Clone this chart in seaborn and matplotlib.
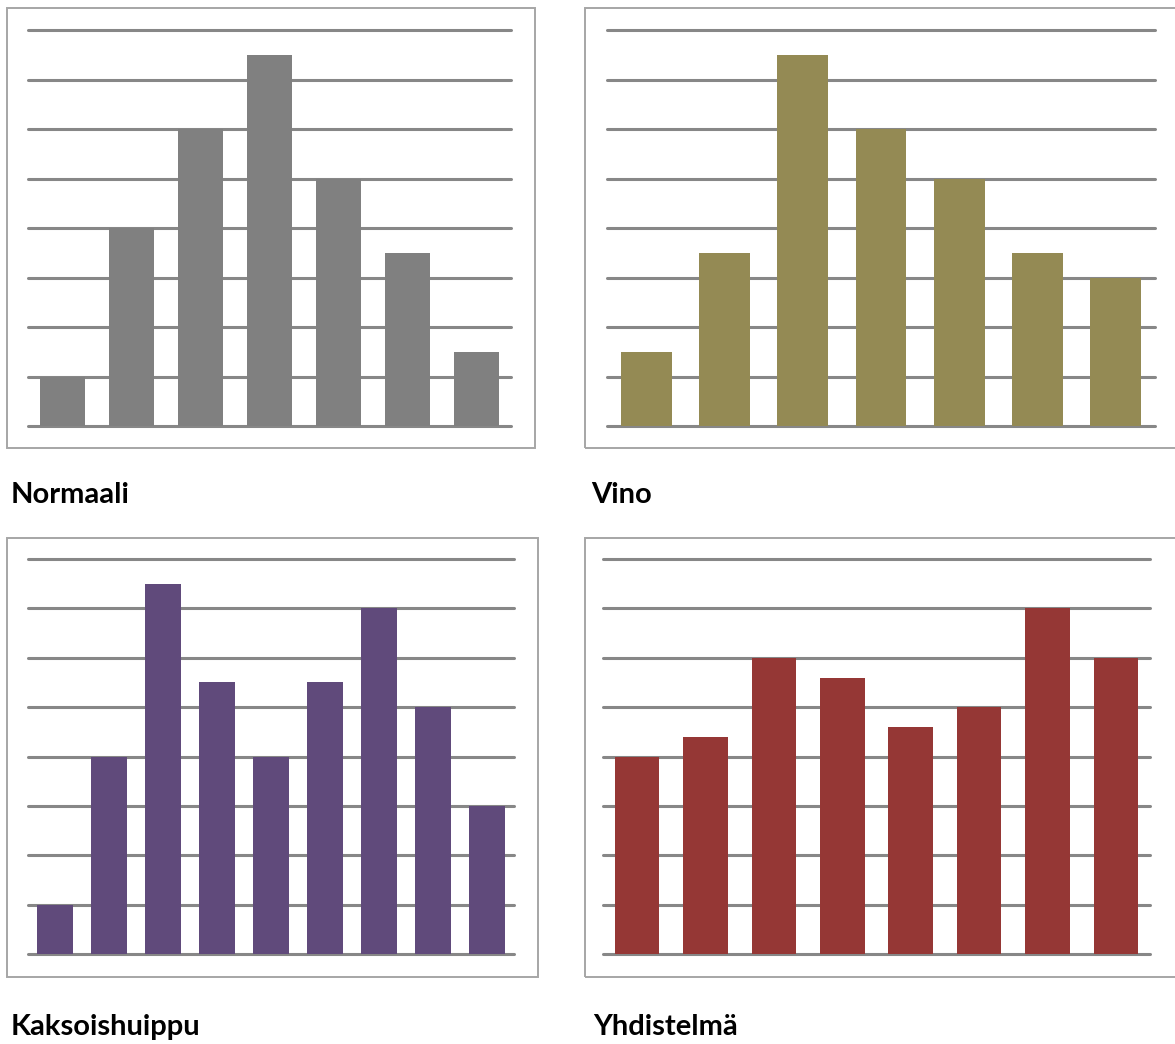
import matplotlib
matplotlib.use("Agg")
import matplotlib.pyplot as plt
from matplotlib.patches import Rectangle
import seaborn as sns
import pandas as pd

sns.set_theme(style="white")
plt.rcParams["font.family"] = ["Lato", "DejaVu Sans"]

# Histogram shapes (bar heights on a 0..8 scale)
normaali_cats = ["1", "2", "3", "4", "5", "6", "7"]
normaali_vals = [1, 4, 6, 7.5, 5, 3.5, 1.5]

vino_cats = ["1", "2", "3", "4", "5", "6", "7"]
vino_vals = [1.5, 3.5, 7.5, 6, 5, 3.5, 3]

kaksoishuippu_cats = ["1", "2", "3", "4", "5", "6", "7", "8", "9"]
kaksoishuippu_vals = [1, 4, 7.5, 5.5, 4, 5.5, 7, 5, 3]

yhdistelma_cats = ["1", "2", "3", "4", "5", "6", "7", "8"]
yhdistelma_vals = [4, 4.4, 6, 5.6, 4.6, 5, 7, 6]

titles = ["Normaali", "Vino", "Kaksoishuippu", "Yhdistelmä"]
grid_levels = list(range(9))

W, H = 1175, 1044
fig = plt.figure(figsize=(W / 100, H / 100), dpi=100)


def px_rect(x0, y0, x1, y1):
    """Convert a pixel box (top-left origin) to figure coordinates."""
    return [x0 / W, 1 - y1 / H, (x1 - x0) / W, (y1 - y0) / H]


panels = [
    (normaali_cats, normaali_vals, "#808080", (28, 30, 511, 426), (7, 8, 535, 448), (11, 495)),
    (vino_cats, vino_vals, "#948A54", (607, 30, 1155, 426), (585, 8, 1185, 448), (591, 495)),
    (kaksoishuippu_cats, kaksoishuippu_vals, "#604A7B", (28, 559, 514, 954), (7, 538, 538, 977), (11, 1027)),
    (yhdistelma_cats, yhdistelma_vals, "#953735", (603, 559, 1150, 954), (585, 538, 1185, 977), (593, 1027)),
]

for (cats, vals, color, ax_px, box_px, title_px), title in zip(panels, titles):
    # frame around each chart
    bx0, by0, bx1, by1 = box_px
    fx, fy, fw, fh = px_rect(bx0, by0, bx1, by1)
    fig.add_artist(Rectangle((fx, fy), fw, fh, transform=fig.transFigure,
                             fill=False, edgecolor="#A6A6A6", linewidth=1.4))

    ax = fig.add_axes(px_rect(*ax_px))
    df = pd.DataFrame({"luokka": cats, "arvo": vals})
    sns.barplot(data=df, x="luokka", y="arvo", order=cats, color=color,
                saturation=1, width=0.65, ax=ax, zorder=3, linewidth=0)
    for lv in grid_levels:
        ax.axhline(lv, color="#878787", linewidth=2.2, zorder=1, clip_on=False)
    ax.set_xlim(-0.5, len(cats) - 0.5)
    ax.set_ylim(0, 8)
    ax.axis("off")

    tx, ty = title_px
    fig.text(tx / W, 1 - ty / H, title, fontsize=21, fontweight="bold",
             color="black", ha="left", va="center")

fig.savefig("out.png", dpi=100, facecolor="white")
